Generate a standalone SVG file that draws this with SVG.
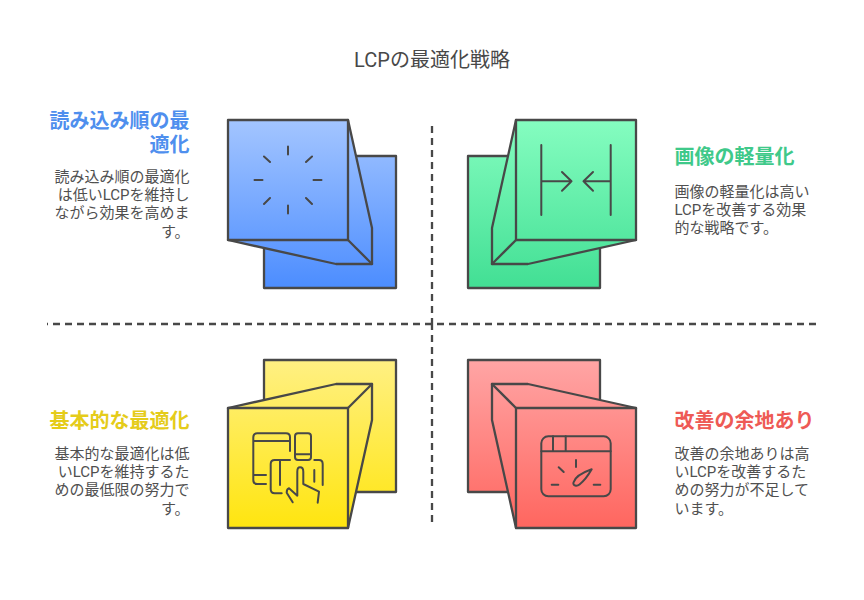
<svg xmlns="http://www.w3.org/2000/svg" width="864" height="600" viewBox="0 0 864 600">
<defs>
<linearGradient id="gb" gradientUnits="userSpaceOnUse" x1="0" y1="120" x2="0" y2="288"><stop offset="0" stop-color="#a3c5ff"/><stop offset="1" stop-color="#4c8dff"/></linearGradient>
<linearGradient id="gg" gradientUnits="userSpaceOnUse" x1="0" y1="120" x2="0" y2="288"><stop offset="0" stop-color="#85fdc0"/><stop offset="1" stop-color="#42df94"/></linearGradient>
<linearGradient id="gy" gradientUnits="userSpaceOnUse" x1="0" y1="360" x2="0" y2="528"><stop offset="0" stop-color="#fff083"/><stop offset="1" stop-color="#ffe50f"/></linearGradient>
<linearGradient id="gr" gradientUnits="userSpaceOnUse" x1="0" y1="360" x2="0" y2="528"><stop offset="0" stop-color="#ffa5a5"/><stop offset="1" stop-color="#ff665f"/></linearGradient>
</defs>
<style>
text{font-family:Roboto,"Noto Sans CJK JP",sans-serif}
.t{font-size:20px;fill:#484848;text-anchor:middle}
.h{font-size:20px;font-weight:700}
.b{font-size:15px;fill:#505050}
.e{text-anchor:end}
.s{stroke:#484848;stroke-width:2.300;stroke-linejoin:round;stroke-linecap:round}
.i{fill:none;stroke:#484848;stroke-width:2;stroke-linecap:round;stroke-linejoin:round}
.d{fill:none;stroke:#484848;stroke-width:2.300;stroke-dasharray:7 5}
</style>
<rect width="864" height="600" fill="#ffffff"/>
<text class="t" x="432" y="66.500">LCPの最適化戦略</text>
<g id="connectors">
<path class="d" d="M432 126V324"/>
<path class="d" d="M432 522V324"/>
<path class="d" d="M816 324H47"/>
</g>
<g id="node-blue">
<g fill="url(#gb)" class="s">
<rect x="264" y="156" width="132" height="132"/>
<path d="M348 120L372 228V264H336L228 240Z"/>
<rect x="228" y="120" width="120" height="120"/>
<path d="M348 240L372 264" fill="none"/>
</g>
<path class="i" d="M288 146.500V154.500M288 205.500V213.500M254.500 180H262.500M313.500 180H321.500M264 156.500L270 162M312 156.500L306 162M264 204L270 198M312 204L306 198"/>
<text class="h e" x="189.500" y="128" fill="#4f8fee">読み込み順の最</text>
<text class="h e" x="189.500" y="151.500" fill="#4f8fee">適化</text>
<text class="b e" x="189.500" y="181.500">読み込み順の最適化</text>
<text class="b e" x="189.500" y="199.800">は低いLCPを維持し</text>
<text class="b e" x="189.500" y="218.200">ながら効果を高めま</text>
<text class="b e" x="189.500" y="236.500">す。</text>
</g>
<g id="node-green">
<g fill="url(#gg)" class="s">
<rect x="468" y="156" width="132" height="132"/>
<path d="M516 120L492 228V264H528L636 240Z"/>
<rect x="516" y="120" width="120" height="120"/>
<path d="M516 240L492 264" fill="none"/>
</g>
<path class="i" d="M541.300 145V215M610.700 145V215M541.300 181.300H571.500M562 172L571.500 181.300L562 190.700M610.700 181.300H583.500M593 172L583.500 181.300L593 190.700"/>
<text class="h" x="674.500" y="163.500" fill="#3fc98a">画像の軽量化</text>
<text class="b" x="674.500" y="196.500">画像の軽量化は高い</text>
<text class="b" x="674.500" y="214.800">LCPを改善する効果</text>
<text class="b" x="674.500" y="233.200">的な戦略です。</text>
</g>
<g id="node-yellow">
<g fill="url(#gy)" class="s">
<rect x="264" y="360" width="132" height="132"/>
<path d="M228 408L336 384H372V420L348 528Z"/>
<rect x="228" y="408" width="120" height="120"/>
<path d="M348 408L372 384" fill="none"/>
</g>
<path class="i" d="M290 451V437.300Q290 433.300 286 433.300H257.300Q253.300 433.300 253.300 437.300V480Q253.300 484 257.300 484H266M253.300 441H290M253.300 475H266"/>
<rect class="i" x="295" y="433.300" width="16" height="26.700" rx="3"/>
<path class="i" d="M295 454.300H311"/>
<path class="i" d="M290 460H274.700Q270.700 460 270.700 464V489.300Q270.700 493.300 274.700 493.300H281.700M280 460V485M314.300 460H319Q322.700 460 322.700 464V485M314.300 470V481.700"/>
<path class="i" d="M292.700 502.300L286.700 492.700Q286.700 489 289 488.300L297.300 495.700V471.700Q297.300 467.300 300 467.300Q303.300 467.300 303.300 471.700V484L319 491.700L317.700 502.700"/>
<text class="h e" x="189.500" y="427.500" fill="#e5cc1a">基本的な最適化</text>
<text class="b e" x="189.500" y="458.500">基本的な最適化は低</text>
<text class="b e" x="189.500" y="476.800">いLCPを維持するた</text>
<text class="b e" x="189.500" y="495.200">めの最低限の努力で</text>
<text class="b e" x="189.500" y="513.500">す。</text>
</g>
<g id="node-red">
<g fill="url(#gr)" class="s">
<rect x="468" y="360" width="132" height="132"/>
<path d="M636 408L528 384H492V420L516 528Z"/>
<rect x="516" y="408" width="120" height="120"/>
<path d="M516 408L492 384" fill="none"/>
</g>
<rect class="i" x="541.300" y="436.300" width="69.400" height="60" rx="7"/>
<path class="i" d="M541.300 451.300H610.700M553 436.300V451.300M565.700 436.300V451.300M576 460V467M558.700 467.300L563.700 472M551.700 484.700H558.300M593.700 484.700H600.300"/>
<path class="i" d="M591.700 469.300C584 472 575 477 573.500 482.500C572.500 486 577 486.500 579.500 484.500C584 481 589 474 591.700 469.300Z"/>
<text class="h" x="674.500" y="427.500" fill="#ee5a55">改善の余地あり</text>
<text class="b" x="674.500" y="458.500">改善の余地ありは高</text>
<text class="b" x="674.500" y="476.800">いLCPを改善するた</text>
<text class="b" x="674.500" y="495.200">めの努力が不足して</text>
<text class="b" x="674.500" y="513.500">います。</text>
</g>
</svg>
